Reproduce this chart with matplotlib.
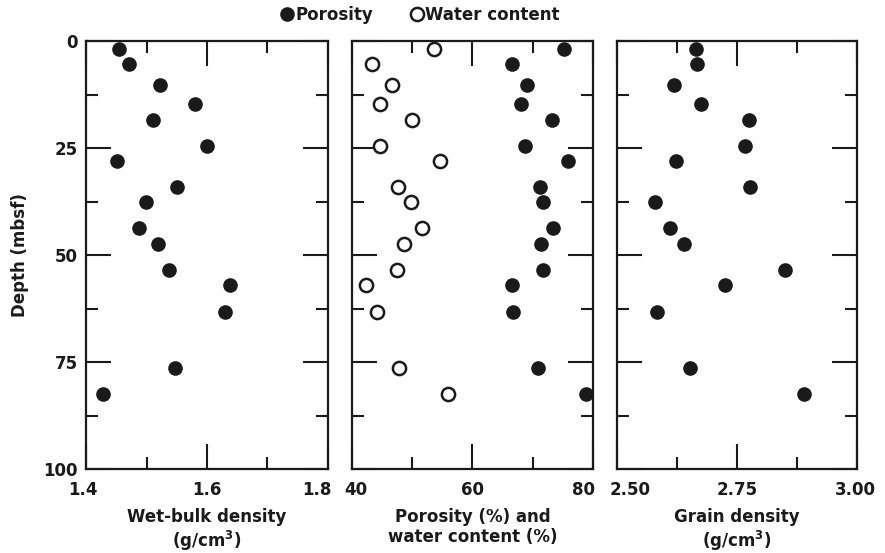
import matplotlib

matplotlib.use("Agg")
import matplotlib.pyplot as plt
import matplotlib.transforms as mtransforms
from matplotlib.lines import Line2D
from matplotlib.ticker import MultipleLocator

plt.rcParams["font.family"] = "DejaVu Sans"
plt.rcParams["font.weight"] = "bold"
plt.rcParams["axes.labelweight"] = "bold"

# depth of each sample (mbsf)
depth = [1.8, 5.2, 10.2, 14.7, 18.4, 24.4, 28.0, 34.0, 37.5, 43.5, 47.3, 53.3, 57.0, 63.2, 76.4, 82.4]
wet_bulk = [1.454, 1.471, 1.522, 1.580, 1.511, 1.600, 1.452, 1.550, 1.499, 1.488, 1.519, 1.537,
            1.638, 1.629, 1.547, 1.428]
porosity = [75.2, 66.6, 69.1, 68.0, 73.2, 68.8, 75.8, 71.2, 71.7, 73.3, 71.4, 71.7, 66.5, 66.7, 70.8, 78.9]
water = [53.6, 43.4, 46.6, 44.7, 50.0, 44.7, 54.6, 47.7, 49.8, 51.6, 48.7, 47.4, 42.4, 44.2, 47.8, 56.0]
grain = [2.665, 2.667, 2.618, 2.675, 2.774, 2.766, 2.623, 2.778, 2.580, 2.610, 2.639, 2.850,
         2.725, 2.583, 2.651, 2.890]

wet_ticks = [1.4, 1.6, 1.8]
pct_ticks = [40, 60, 80]
grain_ticks = [2.50, 2.75, 3.00]

ink = "#1a1a1a"
fs = 12

fig = plt.figure(figsize=(8.85, 5.53), dpi=100)
ax1 = fig.add_axes([0.0972, 0.151, 0.2734, 0.774])
ax2 = fig.add_axes([0.3977, 0.151, 0.2723, 0.774])
ax3 = fig.add_axes([0.6972, 0.151, 0.2712, 0.774])


def style(ax, ticks, fmt, xlabel, nudge):
    ax.set_xlim(ticks[0], ticks[-1])
    ax.set_ylim(100, 0)
    ax.set_xticks(ticks)
    ax.set_xticklabels([fmt.format(t) for t in ticks])
    ax.xaxis.set_minor_locator(MultipleLocator((ticks[1] - ticks[0]) / 2))
    ax.yaxis.set_major_locator(MultipleLocator(25))
    ax.yaxis.set_minor_locator(MultipleLocator(12.5))
    ax.tick_params(which="both", direction="in", top=True, right=True, width=1.5, color=ink,
                   labelsize=fs, labelcolor=ink)
    ax.tick_params(which="major", length=18)
    ax.tick_params(which="minor", length=8.5)
    ax.tick_params(axis="x", pad=8)
    ax.tick_params(axis="y", pad=6)
    for sp in ax.spines.values():
        sp.set_linewidth(1.6)
        sp.set_color(ink)
    ax.set_xlabel(xlabel, fontsize=fs, color=ink, labelpad=7, linespacing=1.15)
    # end labels sit a little inside the frame, as in the original
    for lab, dx in zip(ax.get_xticklabels(), nudge):
        off = mtransforms.ScaledTranslation(dx / 100, 0, fig.dpi_scale_trans)
        lab.set_transform(lab.get_transform() + off)


style(ax1, wet_ticks, "{:.1f}", "Wet-bulk density\n(g/cm$^\\mathbf{3}$)", [-3, 0, -11])
style(ax2, pct_ticks, "{:.0f}", "Porosity (%) and\nwater content (%)", [4, 0, -9])
style(ax3, grain_ticks, "{:.2f}", "Grain density\n(g/cm$^\\mathbf{3}$)", [13, 0, -2])

ax1.set_ylabel("Depth (mbsf)", fontsize=fs, color=ink, labelpad=10)
ax2.tick_params(axis="y", labelleft=False)
ax3.tick_params(axis="y", labelleft=False)

ms = 9.5
ax1.plot(wet_bulk, depth, "o", color=ink, ms=ms, clip_on=False)
ax2.plot(porosity, depth, "o", color=ink, ms=ms, clip_on=False)
ax2.plot(water, depth, "o", mfc="white", mec=ink, mew=1.8, ms=ms, clip_on=False)
ax3.plot(grain, depth, "o", color=ink, ms=ms, clip_on=False)

handles = [
    Line2D([], [], marker="o", ls="none", color=ink, ms=ms),
    Line2D([], [], marker="o", ls="none", mfc="white", mec=ink, mew=1.8, ms=ms),
]
fig.legend(handles, ["Porosity", "Water content"], loc="center", bbox_to_anchor=(0.474, 0.973),
           ncol=2, frameon=False, handletextpad=0.05, columnspacing=2.2, handlelength=0.9,
           prop={"size": fs, "weight": "bold"}, labelcolor=ink)

fig.savefig("out.png", dpi=100)
